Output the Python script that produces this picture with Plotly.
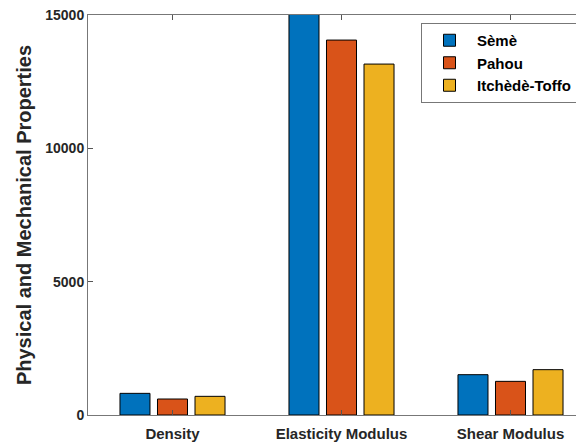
import plotly.graph_objects as go

categories = ["Density", "Elasticity Modulus", "Shear Modulus"]
seme = [812, 15600, 1512]
pahou = [600, 14060, 1262]
itchede = [700, 13160, 1700]
series_names = ["Sèmè", "Pahou", "Itchèdè-Toffo"]
colors = ["#0072BD", "#D95319", "#EDB120"]
ytick_vals = [0, 5000, 10000, 15000]

xpos = [1, 2, 3]
fig = go.Figure()
for name, vals, col in zip(series_names, [seme, pahou, itchede], colors):
    fig.add_trace(go.Bar(x=xpos, y=vals, name=name, marker=dict(color=col, line=dict(color="black", width=1))))

# the page body adds an 8px offset, so the figure is sized 576x435
font_fam = "Liberation Sans, Arial, sans-serif"
fig.update_layout(
    width=576, height=435,
    margin=dict(l=80, r=0, t=7, b=28, autoexpand=False),
    paper_bgcolor="white", plot_bgcolor="white",
    barmode="group", bargap=0.334, bargroupgap=0.2,
    font=dict(family=font_fam, color="#262626"),
    showlegend=True,
    legend=dict(
        x=(421 - 88) / 496, y=1 - (23 - 15) / 400, xanchor="left", yanchor="top",
        bgcolor="white", bordercolor="#777", borderwidth=1,
        font=dict(family=font_fam, size=15, color="black", weight="bold"),
        itemwidth=45, tracegroupgap=0,
    ),
    xaxis=dict(
        range=[0.5, 0.5 + 496 / 169], tickvals=xpos, ticktext=categories,
        ticks="inside", ticklen=5, tickcolor="#555", automargin=False,
        showline=True, linecolor="#777", linewidth=1, mirror="ticks",
        showgrid=False, zeroline=False, ticklabelstandoff=5,
        ticklabeloverflow="allow",
        tickfont=dict(family=font_fam, size=15, color="#262626", weight="bold"),
    ),
    yaxis=dict(
        range=[0, 15000], tickvals=ytick_vals, ticktext=[str(v) for v in ytick_vals],
        ticks="inside", ticklen=5, tickcolor="#555", automargin=False,
        showline=True, linecolor="#777", linewidth=1,
        showgrid=False, zeroline=False, ticklabeloverflow="allow",
        tickfont=dict(family=font_fam, size=14, color="#262626", weight="bold"),
        title=dict(text="Physical and Mechanical Properties", standoff=8,
                   font=dict(family=font_fam, size=20, color="#262626", weight="bold")),
    ),
)
fig.write_html("out.html")
